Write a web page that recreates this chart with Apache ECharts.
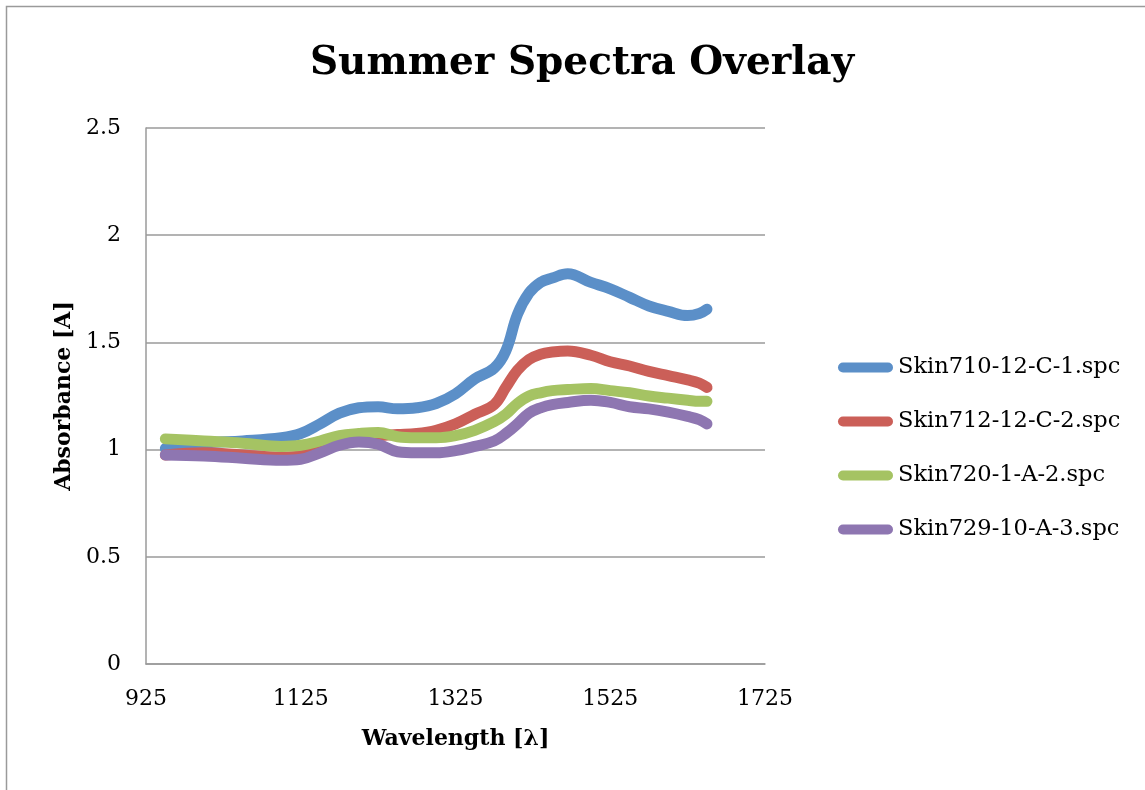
<!DOCTYPE html>
<html>
<head>
<meta charset="utf-8">
<script src="https://cdn.jsdelivr.net/npm/echarts@6/dist/echarts.min.js"></script>
<style>html,body{margin:0;padding:0;background:#fff}#c{width:1145px;height:790px}</style>
</head>
<body>
<div id="c"></div>
<script>
var wavelengths = [950,1000,1050,1100,1125,1150,1175,1200,1225,1250,1275,1300,1325,1350,1375,1390,1405,1420,1435,1450,1470,1500,1525,1550,1575,1600,1625,1640,1650];
var skin710 = [1.005,1.03,1.04,1.055,1.075,1.12,1.17,1.195,1.20,1.19,1.195,1.215,1.26,1.33,1.38,1.46,1.63,1.73,1.78,1.80,1.82,1.78,1.75,1.71,1.67,1.645,1.625,1.635,1.655];
var skin712 = [0.975,0.985,0.975,0.965,0.97,1.00,1.04,1.06,1.065,1.07,1.075,1.09,1.12,1.165,1.21,1.29,1.37,1.42,1.445,1.455,1.46,1.44,1.41,1.39,1.365,1.345,1.325,1.31,1.29];
var skin720 = [1.05,1.04,1.03,1.015,1.02,1.04,1.065,1.075,1.08,1.06,1.055,1.055,1.065,1.09,1.13,1.165,1.215,1.25,1.265,1.275,1.28,1.285,1.275,1.265,1.25,1.24,1.23,1.225,1.225];
var skin729 = [0.975,0.97,0.96,0.95,0.955,0.985,1.02,1.035,1.025,0.99,0.985,0.985,0.995,1.015,1.04,1.075,1.12,1.17,1.195,1.21,1.22,1.23,1.22,1.20,1.19,1.175,1.155,1.14,1.12];
var seriesNames = ['Skin710-12-C-1.spc','Skin712-12-C-2.spc','Skin720-1-A-2.spc','Skin729-10-A-3.spc'];
var seriesValues = [skin710, skin712, skin720, skin729];
var colors = ['#5B8FC8','#CB5F58','#A5C363','#8E76B1'];
var xTicks = [925,1125,1325,1525,1725];
var yTicks = [0,0.5,1,1.5,2,2.5];

var font = 'DejaVu Serif';
var chart = echarts.init(document.getElementById('c'));
var series = seriesNames.map(function(n,i){
  return {
    name: n, type: 'line', smooth: 0.4, showSymbol: false, symbol: 'circle',
    data: wavelengths.map(function(w,j){ return [w, seriesValues[i][j]]; }),
    lineStyle: {width: 11, color: colors[i], cap: 'round', join: 'round'},
    itemStyle: {color: colors[i]},
    z: 2 + i
  };
});
chart.setOption({
  animation: false,
  color: colors,
  grid: {left: 146, right: 380, top: 128, bottom: 126, containLabel: false},
  graphic: [
    {type: 'rect', shape: {x: 6.5, y: 6.5, width: 1200, height: 900}, style: {fill: 'none', stroke: '#9a9a9a', lineWidth: 1.5}, silent: true},
    {type: 'text', x: 582, y: 64, style: {text: 'Summer Spectra Overlay', font: 'bold 39px "DejaVu Serif"', fill: '#000', textAlign: 'center', textVerticalAlign: 'middle'}}
  ],
  legend: {
    orient: 'vertical', left: 838, top: 356, padding: 0, itemWidth: 55, itemHeight: 10, itemGap: 31,
    icon: 'path://M5,0 L50,0 A5,5 0 0 1 50,10 L5,10 A5,5 0 0 1 5,0 Z',
    textStyle: {fontFamily: font, fontSize: 22.5, color: '#000', lineHeight: 22},
    data: seriesNames
  },
  xAxis: {
    type: 'value', min: 925, max: 1725, interval: 200,
    name: 'Wavelength [λ]', nameLocation: 'middle', nameGap: 64,
    nameTextStyle: {fontFamily: font, fontWeight: 'bold', fontSize: 22, color: '#000'},
    axisLine: {show: true, lineStyle: {color: '#9a9a9a', width: 1.5}},
    axisTick: {show: false},
    splitLine: {show: false},
    axisLabel: {fontFamily: font, fontSize: 22, color: '#000', margin: 24,
      customValues: xTicks, formatter: function(v){ return String(v); }}
  },
  yAxis: {
    type: 'value', min: 0, max: 2.5, interval: 0.5,
    name: 'Absorbance [A]', nameLocation: 'middle', nameGap: 71,
    nameTextStyle: {fontFamily: font, fontWeight: 'bold', fontSize: 22, color: '#000'},
    axisLine: {show: true, lineStyle: {color: '#9a9a9a', width: 1.5}},
    axisTick: {show: false},
    splitLine: {show: true, lineStyle: {color: '#9a9a9a', width: 1.5}},
    axisLabel: {fontFamily: font, fontSize: 22, color: '#000', margin: 25,
      customValues: yTicks, formatter: function(v){ return String(v); }}
  },
  series: series
});
</script>
</body>
</html>
